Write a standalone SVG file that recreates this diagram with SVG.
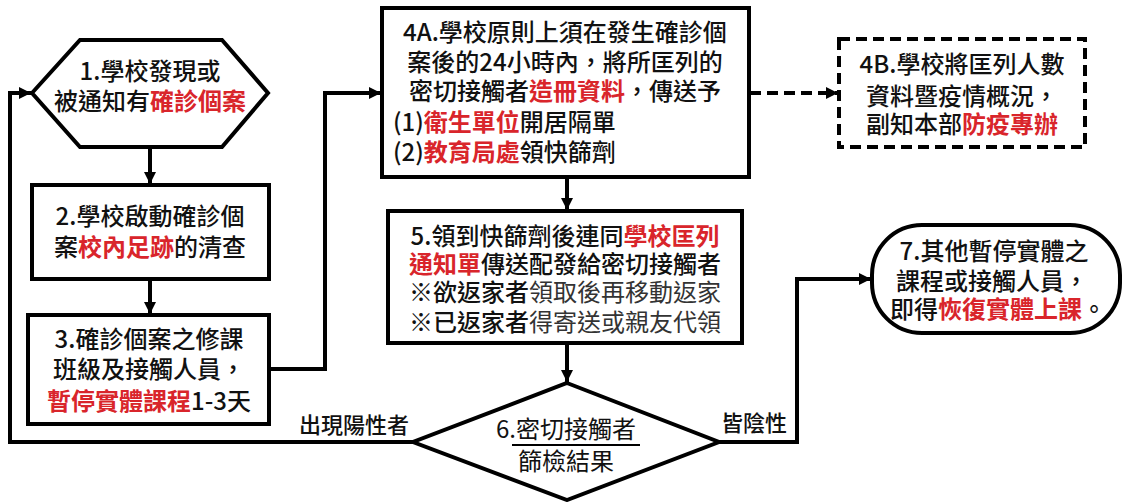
<svg xmlns="http://www.w3.org/2000/svg" width="1123" height="502" viewBox="0 0 1123 502">
<style>
  .shape { fill: #ffffff; stroke: #000000; stroke-width: 4; stroke-linejoin: miter; }
  .dash { stroke-dasharray: 11 6; }
  .conn { fill: none; stroke: #000000; stroke-width: 4; }
  text { font-family: "Noto Sans CJK TC", "Noto Sans CJK SC", sans-serif; font-size: 24px; font-weight: 500; fill: #111111; }
  .c { text-anchor: middle; }
  .r { fill: #d9252b; font-weight: 700; }
  .lt { font-weight: 400; fill: #333333; }
  .dm { font-weight: 400; fill: #111111; }
  .lbl { font-size: 22px; }
</style>
<defs>
  <marker id="arr" markerUnits="userSpaceOnUse" markerWidth="14" markerHeight="14" refX="12" refY="7" orient="auto">
    <path d="M0,1 L12,7 L0,13 Z" fill="#000000"/>
  </marker>
</defs>
<rect width="1123" height="502" fill="#ffffff"/>

<g id="connectors">
  <path class="conn" d="M150,147 V184" marker-end="url(#arr)"/>
  <path class="conn" d="M150,279 V314" marker-end="url(#arr)"/>
  <path class="conn" d="M269,369 H325 V93 H381" marker-end="url(#arr)"/>
  <path class="conn dash" d="M750,93 H838" marker-end="url(#arr)"/>
  <path class="conn" d="M567,177 V210" marker-end="url(#arr)"/>
  <path class="conn" d="M567,343 V382" marker-end="url(#arr)"/>
  <path class="conn" d="M718,442 H797 V279 H871" marker-end="url(#arr)"/>
  <path class="conn" d="M413,442 H10 V93 H31" marker-end="url(#arr)"/>
  <text class="lbl" x="299" y="433">出現陽性者</text>
  <text class="lbl" x="721" y="431">皆陰性</text>
</g>

<g id="node1">
  <polygon class="shape" points="32,93 80,40 222,40 268,93 222,147 80,147"/>
  <text class="c" x="150" y="80">1.學校發現或</text>
  <text class="c" x="150" y="110">被通知有<tspan class="r">確診個案</tspan></text>
</g>

<g id="node2">
  <rect class="shape" x="32" y="185" width="237" height="94"/>
  <text class="c" x="150" y="225">2.學校啟動確診個</text>
  <text class="c" x="150" y="256">案<tspan class="r">校內足跡</tspan>的清查</text>
</g>

<g id="node3">
  <rect class="shape" x="28" y="315" width="241" height="109"/>
  <text class="c" x="149" y="348">3.確診個案之修課</text>
  <text class="c" x="149" y="378">班級及接觸人員，</text>
  <text class="c" x="149" y="410"><tspan class="r">暫停實體課程</tspan>1-3天</text>
</g>

<g id="node4A">
  <rect class="shape" x="382" y="8" width="367" height="169"/>
  <text class="c" x="565" y="41">4A.學校原則上須在發生確診個</text>
  <text class="c" x="565" y="71">案後的24小時內，將所匡列的</text>
  <text class="c" x="565" y="100">密切接觸者<tspan class="r">造冊資料</tspan>，傳送予</text>
  <text x="393" y="131">(1)<tspan class="r">衛生單位</tspan>開居隔單</text>
  <text x="393" y="161">(2)<tspan class="r">教育局處</tspan>領快篩劑</text>
</g>

<g id="node4B">
  <rect class="shape dash" x="839" y="39" width="246" height="108"/>
  <text class="c" x="962" y="73">4B.學校將匡列人數</text>
  <text class="c" x="962" y="105">資料暨疫情概況，</text>
  <text class="c" x="962" y="133">副知本部<tspan class="r">防疫專辦</tspan></text>
</g>

<g id="node5">
  <rect class="shape" x="388" y="211" width="354" height="132"/>
  <text class="c" x="565" y="245">5.領到快篩劑後連同<tspan class="r">學校匡列</tspan></text>
  <text class="c" x="565" y="273"><tspan class="r">通知單</tspan>傳送配發給密切接觸者</text>
  <text class="c" x="565" y="301">※欲返家者<tspan class="lt">領取後再移動返家</tspan></text>
  <text class="c" x="565" y="331">※已返家者<tspan class="lt">得寄送或親友代領</tspan></text>
</g>

<g id="node6">
  <polygon class="shape" points="567,383 719,442 567,500 413,442"/>
  <text class="c dm" x="566" y="438">6.密切接觸者</text>
  <line x1="512" y1="445" x2="640" y2="445" stroke="#000000" stroke-width="2"/>
  <text class="c dm" x="566" y="470">篩檢結果</text>
</g>

<g id="node7">
  <rect class="shape" x="872" y="225" width="248" height="108" rx="50" ry="50"/>
  <text class="c" x="994" y="260">7.其他暫停實體之</text>
  <text class="c" x="992" y="290">課程或接觸人員，</text>
  <text class="c" x="998" y="318">即得<tspan class="r">恢復實體上課</tspan>。</text>
</g>
</svg>
